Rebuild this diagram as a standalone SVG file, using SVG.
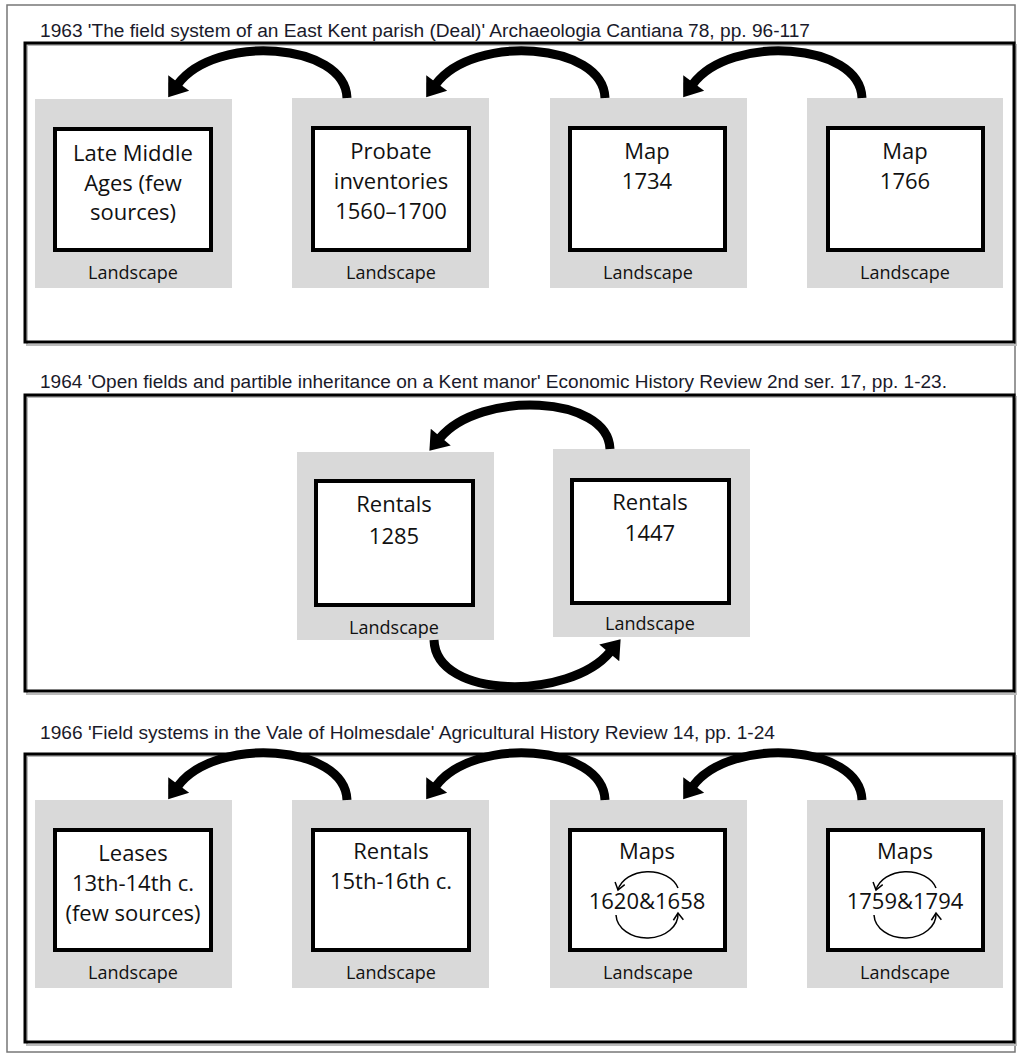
<svg xmlns="http://www.w3.org/2000/svg" width="1017" height="1054" viewBox="0 0 1017 1054">
<defs>
<style>
.title{font-family:"Liberation Sans",Arial,sans-serif;font-size:18px;fill:#1a1a2a;}
.frame{fill:none;stroke:#000;stroke-width:3;}
.shadow{fill:none;stroke:#bbb;stroke-width:2;}
.land{fill:#d9d9d9;}
.box{fill:#fff;stroke:#000;stroke-width:4;}
.t{font-family:"Open Sans","Noto Sans",sans-serif;font-size:22px;fill:#111;text-anchor:middle;}
.l{font-family:"Open Sans","Noto Sans",sans-serif;font-size:18px;fill:#111;text-anchor:middle;}
.big{fill:none;stroke:#000;stroke-width:9;marker-end:url(#head);}
.small{fill:none;stroke:#000;stroke-width:1.5;marker-end:url(#vhead);}
</style>
<marker id="head" markerUnits="userSpaceOnUse" markerWidth="22" markerHeight="26" refX="1" refY="11" orient="auto" viewBox="0 0 16 22">
<path d="M0,0 L15,11 L0,22 z" fill="#000"/>
</marker>
<marker id="vhead" markerUnits="userSpaceOnUse" markerWidth="12" markerHeight="12" refX="8" refY="6" orient="auto" viewBox="0 0 12 12">
<path d="M1,1 L8,6 L1,11" fill="none" stroke="#000" stroke-width="1.5"/>
</marker>
</defs>
<rect x="0" y="0" width="1017" height="1054" fill="#fff"/>
<rect x="7" y="5" width="1008" height="1047" fill="none" stroke="#777" stroke-width="1.5"/>

<g id="section1">
<text class="title" x="40" y="37" textLength="770" lengthAdjust="spacingAndGlyphs">1963  'The field system of an East Kent parish (Deal)' Archaeologia Cantiana 78, pp. 96-117</text>
<rect class="shadow" x="27" y="45" width="990" height="300"/>
<rect class="frame" x="25" y="43" width="989" height="299"/>
</g>
<g id="section2">
<text class="title" x="40" y="388" textLength="907" lengthAdjust="spacingAndGlyphs">1964  'Open fields and partible inheritance on a Kent manor' Economic History Review 2nd ser. 17, pp. 1-23.</text>
<rect class="shadow" x="27" y="397" width="990" height="297"/>
<rect class="frame" x="25" y="395" width="989" height="296"/>
</g>
<g id="section3">
<text class="title" x="40" y="739" textLength="735" lengthAdjust="spacingAndGlyphs">1966  'Field systems in the Vale of Holmesdale' Agricultural History Review 14, pp. 1-24</text>
<rect class="shadow" x="27" y="756" width="990" height="289"/>
<rect class="frame" x="25" y="754" width="989" height="288"/>
</g>

<g id="n1a"><rect class="land" x="35" y="99" width="197" height="189"/><rect class="box" x="55" y="129" width="156" height="121"/>
<text class="t" x="133" y="161">Late Middle</text><text class="t" x="133" y="191">Ages (few</text><text class="t" x="133" y="220">sources)</text><text class="l" x="133" y="279">Landscape</text></g>
<g id="n1b"><rect class="land" x="292" y="98" width="197" height="190"/><rect class="box" x="313" y="128" width="156" height="122"/>
<text class="t" x="391" y="159">Probate</text><text class="t" x="391" y="189">inventories</text><text class="t" x="391" y="219">1560–1700</text><text class="l" x="391" y="279">Landscape</text></g>
<g id="n1c"><rect class="land" x="550" y="98" width="197" height="190"/><rect class="box" x="570" y="128" width="155" height="122"/>
<text class="t" x="647" y="159">Map</text><text class="t" x="647" y="189">1734</text><text class="l" x="648" y="279">Landscape</text></g>
<g id="n1d"><rect class="land" x="807" y="98" width="196" height="190"/><rect class="box" x="828" y="128" width="155" height="122"/>
<text class="t" x="905" y="159">Map</text><text class="t" x="905" y="189">1766</text><text class="l" x="905" y="279">Landscape</text></g>

<g id="n2a"><rect class="land" x="297" y="452" width="197" height="188"/><rect class="box" x="316" y="481" width="157" height="124"/>
<text class="t" x="394" y="512">Rentals</text><text class="t" x="394" y="544">1285</text><text class="l" x="394" y="634">Landscape</text></g>
<g id="n2b"><rect class="land" x="553" y="449" width="197" height="188"/><rect class="box" x="572" y="480" width="157" height="123"/>
<text class="t" x="650" y="510">Rentals</text><text class="t" x="650" y="541">1447</text><text class="l" x="650" y="630">Landscape</text></g>

<g id="n3a"><rect class="land" x="35" y="800" width="197" height="188"/><rect class="box" x="55" y="830" width="156" height="120"/>
<text class="t" x="133" y="861">Leases</text><text class="t" x="133" y="891">13th-14th c.</text><text class="t" x="133" y="921">(few sources)</text><text class="l" x="133" y="979">Landscape</text></g>
<g id="n3b"><rect class="land" x="292" y="800" width="197" height="188"/><rect class="box" x="313" y="830" width="156" height="120"/>
<text class="t" x="391" y="859">Rentals</text><text class="t" x="391" y="889">15th-16th c.</text><text class="l" x="391" y="979">Landscape</text></g>
<g id="n3c"><rect class="land" x="550" y="800" width="197" height="188"/><rect class="box" x="570" y="830" width="155" height="120"/>
<text class="t" x="647" y="909">1620&amp;1658</text><text class="t" x="647" y="859">Maps</text><text class="l" x="648" y="979">Landscape</text>
<path class="small" d="M678 888 A31 23 0 0 0 618 890"/><path class="small" d="M616 915 A31 24 0 0 0 678 913"/></g>
<g id="n3d"><rect class="land" x="807" y="800" width="196" height="188"/><rect class="box" x="828" y="830" width="155" height="120"/>
<text class="t" x="905" y="859">Maps</text><text class="t" x="905" y="909">1759&amp;1794</text><text class="l" x="905" y="979">Landscape</text>
<path class="small" d="M936 888 A31 23 0 0 0 876 890"/><path class="small" d="M874 915 A31 24 0 0 0 936 913"/></g>

<g id="connectors">
<path class="big" d="M347 98 C345 42, 215 34, 178 84"/>
<path class="big" d="M605 98 C603 42, 473 34, 436 84"/>
<path class="big" d="M862 98 C860 42, 730 34, 693 84"/>
<path class="big" d="M610 449 C608 395, 480 390, 440 438"/>
<path class="big" d="M434 640 C436 700, 570 700, 610 652"/>
<path class="big" d="M347 800 C345 744, 215 736, 178 786"/>
<path class="big" d="M605 800 C603 744, 473 736, 436 786"/>
<path class="big" d="M862 800 C860 744, 730 736, 693 786"/>
</g>
</svg>
